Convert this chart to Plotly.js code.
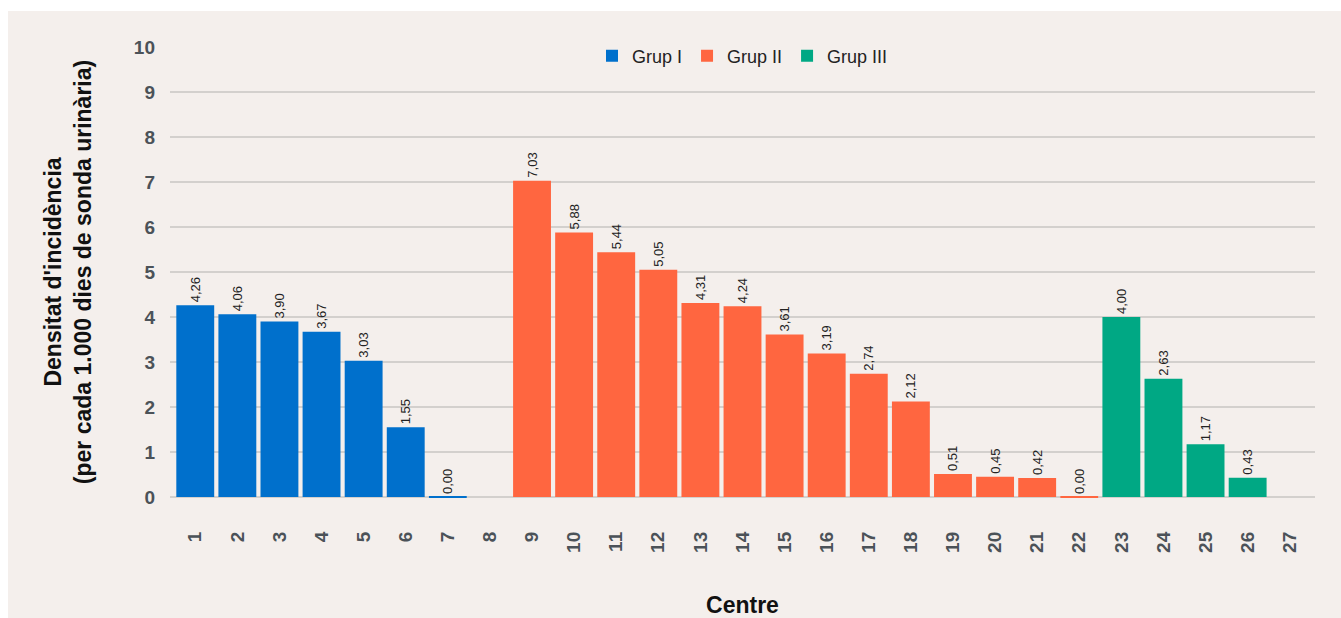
<!DOCTYPE html>
<html>
<head>
<meta charset="utf-8">
<script src="https://cdn.plot.ly/plotly-3.0.1.min.js"></script>
<style>
  html, body { margin: 0; padding: 0; background: #ffffff; }
  #chart { position: absolute; left: 8px; top: 11px; width: 1333px; height: 607px; }
</style>
</head>
<body>
<div id="chart"></div>
<script>
// Centres (x categories) and incidence density values per group
const allCentres = [1,2,3,4,5,6,7,8,9,10,11,12,13,14,15,16,17,18,19,20,21,22,23,24,25,26,27];

const grup1Centres = [1,2,3,4,5,6,7];
const grup1Values  = [4.26,4.06,3.90,3.67,3.03,1.55,0.00];

const grup2Centres = [9,10,11,12,13,14,15,16,17,18,19,20,21,22];
const grup2Values  = [7.03,5.88,5.44,5.05,4.31,4.24,3.61,3.19,2.74,2.12,0.51,0.45,0.42,0.00];

const grup3Centres = [23,24,25,26];
const grup3Values  = [4.00,2.63,1.17,0.43];

const seriesNames  = ['Grup I','Grup II','Grup III'];
const seriesColors = ['#0070cc','#ff6640','#00a884'];

const yTicks = [0,1,2,3,4,5,6,7,8,9,10];

const FONT = '"Liberation Sans", Arial, sans-serif';

function barTrace(name, xs, ys, color) {
  return {
    type: 'bar',
    name: name,
    legendgroup: name,
    x: xs,
    y: ys,
    marker: { color: color, line: { width: 0 } },
    texttemplate: '%{y:.2f}',
    textposition: 'outside',
    textangle: -90,
    cliponaxis: false,
    textfont: { family: FONT, size: 13, color: '#222222' },
    hovertemplate: 'Centre %{x}: %{y:.2f}<extra>' + name + '</extra>'
  };
}

// zero-valued bars are drawn as a thin flat mark at the baseline
function zeroTrace(name, xs, ys, color) {
  const zx = xs.filter((x, i) => ys[i] === 0);
  const zy = ys.filter(v => v === 0);
  return {
    type: 'scatter',
    mode: 'markers',
    name: name,
    legendgroup: name,
    showlegend: false,
    hoverinfo: 'skip',
    x: zx,
    y: zy,
    cliponaxis: false,
    marker: { symbol: 'line-ew', size: 27, color: color, line: { color: color, width: 2 } }
  };
}

const data = [
  barTrace(seriesNames[0], grup1Centres, grup1Values, seriesColors[0]),
  barTrace(seriesNames[1], grup2Centres, grup2Values, seriesColors[1]),
  barTrace(seriesNames[2], grup3Centres, grup3Values, seriesColors[2]),
  zeroTrace(seriesNames[0], grup1Centres, grup1Values, seriesColors[0]),
  zeroTrace(seriesNames[1], grup2Centres, grup2Values, seriesColors[1])
];

const layout = {
  width: 1333,
  height: 607,
  paper_bgcolor: '#f4efec',
  plot_bgcolor: '#f4efec',
  separators: ',.',
  barmode: 'overlay',
  bargap: 0.1,
  margin: { l: 162, r: 26, t: 36, b: 121, pad: 0 },
  font: { family: FONT, color: '#222222' },
  showlegend: true,
  legend: {
    orientation: 'h',
    x: 0.5, xanchor: 'center',
    y: 0.98, yanchor: 'middle',
    bgcolor: 'rgba(0,0,0,0)',
    font: { family: FONT, size: 18, color: '#222222' },
    traceorder: 'normal'
  },
  xaxis: {
    type: 'linear',
    range: [0.4, 27.6],
    tickmode: 'array',
    tickvals: allCentres,
    ticktext: allCentres.map(String),
    tickangle: -90,
    ticks: '',
    ticklabelstandoff: 30,
    showgrid: false,
    zeroline: false,
    showline: false,
    fixedrange: true,
    tickfont: { family: FONT, size: 19, color: '#4b5258', weight: 'bold' },
    title: {
      text: '<b>Centre</b>',
      font: { family: FONT, size: 23, color: '#111111' },
      standoff: 44
    }
  },
  yaxis: {
    range: [0, 10],
    tickmode: 'array',
    tickvals: yTicks,
    ticktext: yTicks.map(String),
    ticks: '',
    ticklabelstandoff: 14,
    showgrid: true,
    gridcolor: '#d3d0cd',
    gridwidth: 1.5,
    zeroline: true,
    zerolinecolor: '#d3d0cd',
    zerolinewidth: 1.5,
    showline: false,
    fixedrange: true,
    tickfont: { family: FONT, size: 19, color: '#4b5258', weight: 'bold' },
    title: {
      text: "<b>Densitat d'incidència<br>(per cada 1.000 dies de sonda urinària)</b>",
      font: { family: FONT, size: 23, color: '#111111' },
      standoff: 35
    }
  }
};

Plotly.newPlot('chart', data, layout, { displayModeBar: false, responsive: false });
</script>
</body>
</html>
